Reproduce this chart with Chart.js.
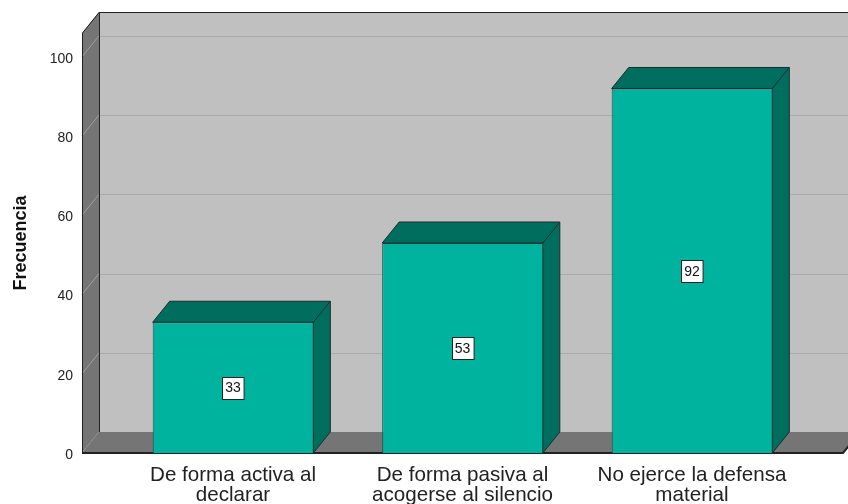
<!DOCTYPE html>
<html>
<head>
<meta charset="utf-8">
<script src="https://cdn.jsdelivr.net/npm/chart.js@4/dist/chart.umd.min.js"></script>
<style>
  html, body { margin: 0; padding: 0; background: #fff; }
  #wrap { width: 848px; height: 504px; }
</style>
</head>
<body>
<div id="wrap"><canvas id="chart"></canvas></div>
<script>
// data
var categories = [
    ['De forma activa al', 'declarar'],
    ['De forma pasiva al', 'acogerse al silencio'],
    ['No ejerce la defensa', 'material']
];
var frecuencia = [33, 53, 92];
var yTicks = [0, 20, 40, 60, 80, 100];

var font = '"Liberation Sans", Arial, sans-serif';
var dx = 17, dy = -21; // depth of the 3d box

// walls, floor and back grid lines
var walls = {
    id: 'walls',
    beforeDatasetsDraw: function(chart){
        var ctx = chart.ctx;
        var a = chart.chartArea;
        var ys = chart.scales.y;
        ctx.save();
        // back wall
        ctx.fillStyle = '#c0c0c0';
        ctx.fillRect(a.left + dx, a.top + dy, a.right - a.left + 40, a.bottom - a.top);
        // grid on back wall
        ctx.lineWidth = 1;
        yTicks.forEach(function(v){
            var py = Math.round(ys.getPixelForValue(v) + dy) + 0.5;
            ctx.strokeStyle = '#aaaaaa';
            ctx.beginPath();
            ctx.moveTo(a.left + dx, py);
            ctx.lineTo(a.right + dx + 40, py);
            ctx.stroke();
        });
        // left wall
        ctx.fillStyle = '#757575';
        ctx.beginPath();
        ctx.moveTo(a.left, a.top);
        ctx.lineTo(a.left + dx, a.top + dy);
        ctx.lineTo(a.left + dx, a.bottom + dy);
        ctx.lineTo(a.left, a.bottom);
        ctx.closePath();
        ctx.fill();
        yTicks.forEach(function(v){
            var py = ys.getPixelForValue(v);
            ctx.strokeStyle = '#a0a0a0';
            ctx.beginPath();
            ctx.moveTo(a.left, py);
            ctx.lineTo(a.left + dx, py + dy);
            ctx.stroke();
        });
        // floor
        ctx.fillStyle = '#757575';
        ctx.beginPath();
        ctx.moveTo(a.left, a.bottom);
        ctx.lineTo(a.left + dx, a.bottom + dy);
        ctx.lineTo(a.right + dx, a.bottom + dy);
        ctx.lineTo(a.right, a.bottom);
        ctx.closePath();
        ctx.fill();
        // outlines
        ctx.strokeStyle = '#222';
        ctx.lineWidth = 1;
        ctx.beginPath();
        ctx.moveTo(a.left + 0.5, a.bottom);
        ctx.lineTo(a.left + 0.5, a.top);
        ctx.lineTo(a.left + dx, a.top + dy + 0.5);
        ctx.lineTo(a.right + dx + 40, a.top + dy + 0.5);
        ctx.moveTo(a.left + dx + 0.5, a.top + dy);
        ctx.lineTo(a.left + dx + 0.5, a.bottom + dy);
        ctx.stroke();
        ctx.lineWidth = 2;
        ctx.beginPath();
        ctx.moveTo(a.left, a.bottom);
        ctx.lineTo(a.right, a.bottom);
        ctx.lineTo(a.right + dx, a.bottom + dy);
        ctx.stroke();
        ctx.restore();
    }
};

// 3d top and side of the bars, plus value boxes
var bars3d = {
    id: 'bars3d',
    afterDatasetsDraw: function(chart){
        var ctx = chart.ctx;
        var meta = chart.getDatasetMeta(0);
        ctx.save();
        meta.data.forEach(function(bar, i){
            var p = bar.getProps(['x', 'y', 'base', 'width'], true);
            var l = p.x - p.width / 2, r = p.x + p.width / 2;
            ctx.fillStyle = '#006e5f';
            ctx.strokeStyle = '#1c2e2a';
            ctx.lineWidth = 1;
            ctx.beginPath();
            ctx.moveTo(l, p.y);
            ctx.lineTo(l + dx, p.y + dy);
            ctx.lineTo(r + dx, p.y + dy);
            ctx.lineTo(r + dx, p.base + dy);
            ctx.lineTo(r, p.base);
            ctx.lineTo(r, p.y);
            ctx.closePath();
            ctx.fill();
            ctx.stroke();
            ctx.beginPath();
            ctx.moveTo(r, p.y);
            ctx.lineTo(r + dx, p.y + dy);
            ctx.stroke();

            // value label
            var txt = String(frecuencia[i]);
            ctx.font = '14px ' + font;
            var w = ctx.measureText(txt).width + 6;
            var h = 22;
            var cy = (p.y + p.base) / 2;
            var bx = Math.round(p.x - w / 2) + 0.5, by = Math.round(cy - h / 2) + 0.5;
            ctx.fillStyle = '#fff';
            ctx.fillRect(bx, by, w, h);
            ctx.strokeStyle = '#222';
            ctx.strokeRect(bx, by, w, h);
            ctx.fillStyle = '#111';
            ctx.textAlign = 'center';
            ctx.textBaseline = 'middle';
            ctx.fillText(txt, p.x, cy + 1);
        });
        ctx.restore();
    }
};

var points = frecuencia.map(function(v, i){ return { x: i, y: v }; });

new Chart(document.getElementById('chart'), {
    type: 'bar',
    data: {
        datasets: [{
            label: 'Frecuencia',
            data: points,
            backgroundColor: '#00b39f',
            borderColor: '#2b4540',
            borderWidth: { left: 1, top: 1, right: 0, bottom: 0 },
            barPercentage: 0.7,
            categoryPercentage: 1
        }]
    },
    options: {
        responsive: true,
        maintainAspectRatio: false,
        animation: false,
        layout: { padding: { top: 33, right: 5, left: 0, bottom: 0 } },
        plugins: {
            legend: { display: false },
            tooltip: { enabled: false }
        },
        scales: {
            x: {
                type: 'linear',
                offset: false,
                min: -0.658,
                max: 2.658,
                grid: { display: false, drawTicks: false, offset: false },
                border: { display: false },
                afterBuildTicks: function(scale){
                    scale.ticks = categories.map(function(c, i){ return { value: i }; });
                },
                afterFit: function(scale){ scale.height = 51; },
                ticks: {
                    padding: 13,
                    autoSkip: false,
                    maxRotation: 0,
                    color: '#222',
                    font: { family: font, size: 20.6, lineHeight: 0.95 },
                    callback: function(v){ return categories[v]; }
                }
            },
            y: {
                min: 0,
                max: 106,
                grid: { display: false, drawTicks: false },
                border: { display: false },
                afterBuildTicks: function(scale){
                    scale.ticks = yTicks.map(function(v){ return { value: v }; });
                },
                afterFit: function(scale){ scale.width = 82; },
                title: {
                    display: true,
                    text: 'Frecuencia',
                    color: '#111',
                    font: { family: font, size: 18, weight: 'bold' },
                    padding: { top: 10, bottom: 4 }
                },
                ticks: {
                    padding: 9,
                    labelOffset: 2,
                    color: '#222',
                    font: { family: font, size: 14 }
                }
            }
        }
    },
    plugins: [walls, bars3d]
});
</script>
</body>
</html>
